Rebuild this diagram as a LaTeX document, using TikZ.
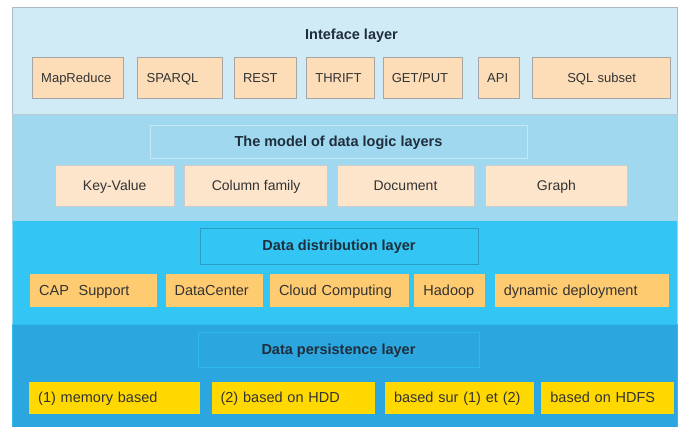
\documentclass[tikz,border=0pt]{standalone}
\usepackage{fontspec}
\setmainfont{Liberation Sans}
\usepackage{tikz}
\usetikzlibrary{positioning}
\definecolor{frameline}{HTML}{A9BCC6}
\definecolor{layerA}{HTML}{D0EAF6}
\definecolor{layerB}{HTML}{A0D8F0}
\definecolor{layerC}{HTML}{33C5F3}
\definecolor{layerD}{HTML}{2CA6DE}
\definecolor{apifill}{HTML}{FCDDB8}
\definecolor{modelfill}{HTML}{FDE5CC}
\definecolor{distfill}{HTML}{FFCB70}
\definecolor{persfill}{HTML}{FFD800}
\definecolor{itemtext}{HTML}{333333}
\definecolor{titletext}{HTML}{1E2E3C}
\tikzset{node distance=10pt, every node/.append style={text height=12.5pt, text depth=3pt}}
\tikzstyle{layer} = [rectangle, anchor=north west, minimum width=665pt, inner sep=0pt]
\tikzstyle{title} = [font={\bfseries\fontsize{14.5}{16}\selectfont}, text=titletext, inner sep=0pt]

\begin{document}
\begin{tikzpicture}[x=1pt, y=-1pt,
    apibox/.style={rectangle, draw=black!35, fill=apifill, minimum height=41pt, inner xsep=9pt, align=left, font={\fontsize{13}{15}\selectfont}, text=itemtext},
    modelbox/.style={rectangle, draw=black!20, fill=modelfill, minimum height=41pt, align=center, font={\fontsize{14}{16}\selectfont}, text=itemtext},
    distbox/.style={rectangle, fill=distfill, minimum height=33pt, inner xsep=9pt, align=left, font={\fontsize{14.5}{16}\selectfont}, text=itemtext},
    persbox/.style={rectangle, fill=persfill, minimum height=32pt, inner xsep=9pt, align=left, font={\fontsize{14.5}{16}\selectfont}, text=itemtext},
    headbox/.style={rectangle, draw=#1, thin}
  ]
  \useasboundingbox (0,0) rectangle (682,426);

  % Define layers
  \node[layer, fill=layerA, draw=frameline, minimum height=107pt] (interface) at (12,7) {};
  \node[layer, fill=layerB, draw=frameline!80, minimum height=106pt] (model) at (12,114) {};
  \node[layer, fill=layerC, draw=layerB, minimum height=104pt] (distribution) at (12,220) {};
  \node[layer, fill=layerD, draw=layerC!70!layerD, minimum height=110pt] (persistence) at (12,324) {};

  % Define interface layer
  \node[title] (interfaceTitle) at (351.5,35) {Inteface layer};
  \node[apibox, text width=73pt, anchor=west] (mapreduce) at (32,77.5) {MapReduce};
  \node[apibox, text width=67pt, right=14pt of mapreduce] (sparql) {SPARQL};
  \node[apibox, text width=44pt, right=11pt of sparql] (rest) {REST};
  \node[apibox, text width=50pt, right=10pt of rest] (thrift) {THRIFT};
  \node[apibox, text width=61pt, right=8pt of thrift] (getput) {GET/PUT};
  \node[apibox, text width=23pt, right=16pt of getput] (api) {API};
  \node[apibox, text width=120pt, align=center, right=13pt of api] (sqlsubset) {SQL subset};

  % Define model layer
  \node[headbox=layerB!60!white, minimum width=377pt, minimum height=33pt] (modelHead) at (338.5,141.5) {};
  \node[title] (modelTitle) at (modelHead) {The model of data logic layers};
  \node[modelbox, minimum width=119pt, anchor=west] (keyvalue) at (55,185.5) {Key-Value};
  \node[modelbox, minimum width=143pt, right=of keyvalue] (columnfamily) {Column family};
  \node[modelbox, minimum width=137pt, right=9pt of columnfamily] (document) {Document};
  \node[modelbox, minimum width=142pt, right=11pt of document] (graph) {Graph};

  % Define distribution layer
  \node[headbox=layerC!80!black, minimum width=278pt, minimum height=36pt] (distHead) at (339,246) {};
  \node[title] (distTitle) at (distHead) {Data distribution layer};
  \node[distbox, text width=109pt, anchor=west] (cap) at (30,290.5) {CAP\ \ Support};
  \node[distbox, text width=79pt, right=8pt of cap] (datacenter) {DataCenter};
  \node[distbox, text width=121pt, right=7pt of datacenter] (cloud) {Cloud Computing};
  \node[distbox, text width=53pt, right=5pt of cloud] (hadoop) {Hadoop};
  \node[distbox, text width=156pt, right=9pt of hadoop] (dynamic) {dynamic deployment};

  % Define persistence layer
  \node[headbox=layerC!60!layerD, minimum width=281pt, minimum height=35pt] (persHead) at (338.5,349.5) {};
  \node[title] (persTitle) at (persHead) {Data persistence layer};
  \node[persbox, text width=153pt, anchor=west] (memory) at (29,398) {(1) memory based};
  \node[persbox, text width=145pt, right=11pt of memory] (hdd) {(2) based on HDD};
  \node[persbox, text width=131pt, right=of hdd] (both) {based sur (1) et (2)};
  \node[persbox, text width=115pt, right=7pt of both] (hdfs) {based on HDFS};

\end{tikzpicture}
\end{document}
